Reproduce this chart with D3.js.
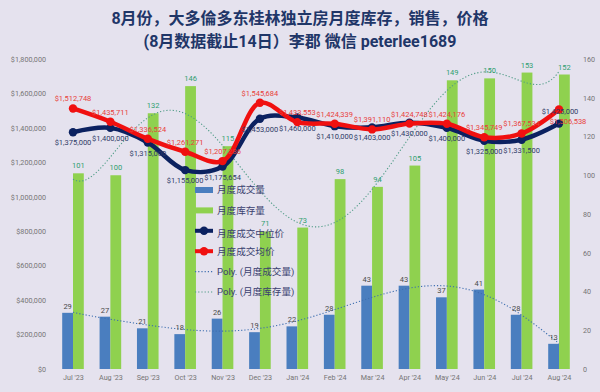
<!DOCTYPE html>
<html><head><meta charset="utf-8">
<script src="https://cdn.jsdelivr.net/npm/d3@7"></script>
<style>
html,body{margin:0;padding:0;background:#e5e2ee;}
svg{display:block;}
text{font-family:Roboto,"Noto Sans CJK SC",sans-serif;}
</style></head>
<body>
<svg id="chart" width="600" height="392"></svg>
<script>
// ---- data ----
const categories = ["Jul '23","Aug '23","Sep '23","Oct '23","Nov '23","Dec '23","Jan '24","Feb '24","Mar '24","Apr '24","May '24","Jun '24","Jul '24","Aug '24"];
const salesVolume = [29,27,21,18,26,19,22,28,43,43,37,41,28,13];
const inventory = [101,100,132,146,115,71,73,98,94,105,149,150,153,152];
const medianPrice = [1375000,1400000,1315000,1155000,1175654,1453000,1460000,1410000,1403000,1430000,1400000,1325000,1331500,1425000];
const avgPrice = [1512748,1435711,1336524,1261271,1207286,1545684,1433553,1424339,1391110,1424748,1424176,1345749,1367534,1506538];
const leftTicks = [0,200000,400000,600000,800000,1000000,1200000,1400000,1600000,1800000];
const rightTicks = [0,20,40,60,80,100,120,140,160];
const titleLines = ["8月份，大多倫多东桂林独立房月度库存，销售，价格","(8月数据截止14日）李郡  微信  peterlee1689"];
const legendLabels = ["月度成交量","月度库存量","月度成交中位价","月度成交均价","Poly. (月度成交量)","Poly. (月度库存量)"];
const trendOrderSales = 6, trendOrderInv = 6;

// ---- styles ----
const C = {blue:"#4a7ebf", green:"#8fd14f", navy:"#0b2160", red:"#f01010",
  salesTrend:"#3f6fb0", invTrend:"#4f9c86", axis:"#757575", title:"#1f3668",
  salesLbl:"#4a4a4a", invLbl:"#2f9e6e", redLbl:"#e8403a", navyLbl:"#2e3a66"};

const svg = d3.select("#chart");
const plotTop = 59, plotBottom = 369;
const x = d3.scalePoint().domain(categories).range([73, 559]);
const yL = d3.scaleLinear().domain([0,1800000]).range([plotBottom, plotTop]);
const yR = d3.scaleLinear().domain([0,160]).range([plotBottom, plotTop]);
const bw = 10.8;

// title
svg.selectAll("text.title").data(titleLines).join("text")
  .attr("x",300).attr("y",(d,i)=>24+i*22.5)
  .attr("text-anchor","middle").attr("font-weight","bold")
  .attr("font-size",16).attr("fill",C.title)
  .attr("font-family","'Noto Sans CJK SC',sans-serif").text(d=>d);

// axes
const fmt$ = v => "$" + d3.format(",")(v);
const gL = svg.append("g").attr("transform","translate(49,0)")
  .call(d3.axisLeft(yL).tickValues(leftTicks).tickFormat(fmt$).tickSize(0).tickPadding(3));
const gR = svg.append("g").attr("transform","translate(580,0)")
  .call(d3.axisRight(yR).tickValues(rightTicks).tickSize(0).tickPadding(3));
const gX = svg.append("g").attr("transform",`translate(0,${plotBottom})`)
  .call(d3.axisBottom(x).tickSize(0).tickPadding(6));
[gL,gR,gX].forEach(g=>{
  g.select(".domain").remove();
  g.selectAll("text").attr("fill",C.axis).attr("font-size",7.2).attr("font-family","Roboto,sans-serif");
});

// bars
svg.append("g").selectAll("rect").data(salesVolume).join("rect")
  .attr("x",(d,i)=>x(categories[i])-bw).attr("width",bw)
  .attr("y",d=>yR(d)).attr("height",d=>plotBottom-yR(d)).attr("fill",C.blue);
svg.append("g").selectAll("rect").data(inventory).join("rect")
  .attr("x",(d,i)=>x(categories[i])).attr("width",bw)
  .attr("y",d=>yR(d)).attr("height",d=>plotBottom-yR(d)).attr("fill",C.green);

// polynomial trendlines (least squares fit of the data arrays)
function polyfit(ys, order){
  const n = ys.length, h=(n-1)/2;
  const ts = ys.map((_,i)=>(i-h)/h);
  const m = order+1;
  const A = Array.from({length:m},()=>new Array(m+1).fill(0));
  for(let r=0;r<m;r++){
    for(let c=0;c<m;c++) A[r][c]=d3.sum(ts,t=>Math.pow(t,r+c));
    A[r][m]=d3.sum(ts,(t,i)=>Math.pow(t,r)*ys[i]);
  }
  for(let k=0;k<m;k++){
    let p=k; for(let r=k+1;r<m;r++) if(Math.abs(A[r][k])>Math.abs(A[p][k])) p=r;
    [A[k],A[p]]=[A[p],A[k]];
    for(let r=0;r<m;r++){ if(r===k) continue; const f=A[r][k]/A[k][k];
      for(let c=k;c<=m;c++) A[r][c]-=f*A[k][c]; }
  }
  const coef = A.map((row,k)=>row[m]/row[k]);
  return i => { const t=(i-h)/h; return coef.reduce((s,c,k)=>s+c*Math.pow(t,k),0); };
}
function trendPts(ys, order){
  const f = polyfit(ys, order), n=ys.length, x0=x(categories[0]), st=x.step();
  return d3.range(0,(n-1)*20+1).map(j=>{const i=j/20; return [x0+i*st, yR(f(i))];});
}
const line = d3.line();
svg.append("path").attr("d",line(trendPts(salesVolume,trendOrderSales)))
  .attr("fill","none").attr("stroke",C.salesTrend).attr("stroke-width",1.1).attr("stroke-dasharray","1.2,2");
svg.append("path").attr("d",line(trendPts(inventory,trendOrderInv)))
  .attr("fill","none").attr("stroke",C.invTrend).attr("stroke-width",1.1).attr("stroke-dasharray","1.2,2");

// bar labels
svg.append("g").selectAll("text").data(salesVolume).join("text")
  .attr("x",(d,i)=>x(categories[i])-bw/2).attr("y",d=>yR(d)-4)
  .attr("text-anchor","middle").attr("font-size",7.5).attr("fill",C.salesLbl).text(d=>d);
svg.append("g").selectAll("text").data(inventory).join("text")
  .attr("x",(d,i)=>x(categories[i])+bw/2).attr("y",d=>yR(d)-5)
  .attr("text-anchor","middle").attr("font-size",7.5).attr("fill",C.invLbl).text(d=>d);

// price lines
const curve = d3.line().curve(d3.curveCatmullRom.alpha(0.5));
function priceLine(vals, color){
  const pts = vals.map((v,i)=>[x(categories[i]), yL(v)]);
  svg.append("path").attr("d",curve(pts)).attr("fill","none").attr("stroke",color)
    .attr("stroke-width",4.5).attr("stroke-linejoin","round").attr("stroke-linecap","round");
  svg.append("g").selectAll("circle").data(pts).join("circle")
    .attr("cx",d=>d[0]).attr("cy",d=>d[1]).attr("r",4.2).attr("fill",color);
}
priceLine(medianPrice, C.navy);
priceLine(avgPrice, C.red);

// price labels
const last = categories.length-1;
svg.append("g").selectAll("text").data(medianPrice).join("text")
  .attr("x",(d,i)=>x(categories[i]) + (i===last?1:0))
  .attr("y",(d,i)=> i===last ? yL(d)-10 : yL(d)+13)
  .attr("text-anchor","middle").attr("font-size",7.5).attr("fill",C.navyLbl).text(fmt$);
svg.append("g").selectAll("text").data(avgPrice).join("text")
  .attr("x",(d,i)=>x(categories[i]) + (i===last?9:0))
  .attr("y",(d,i)=> i===last ? yL(d)+14 : yL(d)-7)
  .attr("text-anchor","middle").attr("font-size",7.5).attr("fill",C.redLbl).text(fmt$);

// legend
const lg = svg.append("g").attr("transform","translate(195,190)");
legendLabels.forEach((lab,i)=>{
  const y = i*20.4;
  const g = lg.append("g").attr("transform",`translate(0,${y})`);
  if(i<2){
    g.append("rect").attr("x",0).attr("y",-3).attr("width",18).attr("height",6).attr("fill",i===0?C.blue:C.green);
  } else if(i<4){
    const col = i===2?C.navy:C.red;
    g.append("line").attr("x1",0).attr("x2",18).attr("y1",0).attr("y2",0).attr("stroke",col).attr("stroke-width",4);
    g.append("circle").attr("cx",9).attr("cy",0).attr("r",4.2).attr("fill",col);
  } else {
    g.append("line").attr("x1",0).attr("x2",18).attr("y1",0).attr("y2",0)
      .attr("stroke",i===4?C.salesTrend:C.invTrend).attr("stroke-width",1.1).attr("stroke-dasharray","1.2,2");
  }
  g.append("text").attr("x",22).attr("y",i===2?3:0).attr("dy","0.35em")
    .attr("font-size",9.6).attr("fill","#3a3f6e")
    .attr("font-family","Roboto,'Noto Sans CJK SC',sans-serif").text(lab);
});
</script>
</body></html>
